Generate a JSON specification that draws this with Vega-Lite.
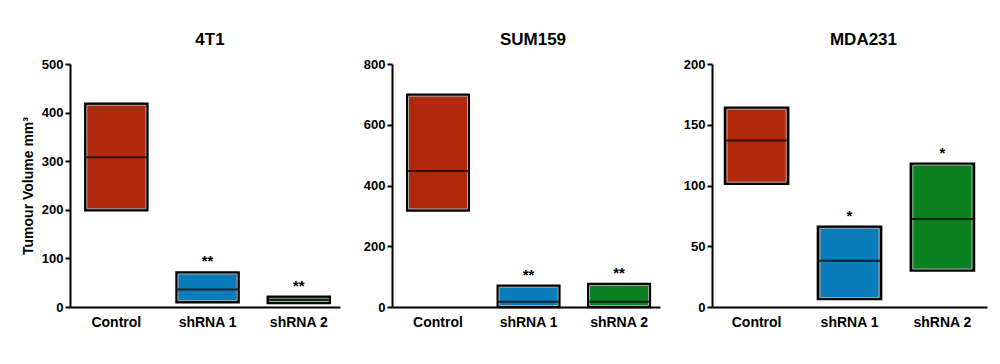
{
  "$schema": "https://vega.github.io/schema/vega-lite/v6.json",
  "background": "white",
  "padding": {"left": 21, "top": 31, "right": 5, "bottom": 5},
  "config": {
    "font": "Liberation Sans",
    "view": {"stroke": null},
    "concat": {"spacing": 22},
    "title": {"fontSize": 17, "fontWeight": "bold", "color": "black", "offset": 9},
    "axis": {
      "grid": false,
      "domainColor": "black",
      "domainWidth": 2,
      "tickColor": "black",
      "tickWidth": 2,
      "labelColor": "black",
      "labelFontWeight": "bold",
      "titleColor": "black"
    },
    "axisY": {"tickSize": 5, "labelFontSize": 13, "labelPadding": 2, "minExtent": 30, "maxExtent": 30},
    "axisX": {"ticks": false, "labelFontSize": 14, "labelPadding": 8, "labelAngle": 0, "title": null}
  },
  "datasets": {
    "t1": [
      {"group": "Control", "low": 199, "high": 418, "median": 308, "star": ""},
      {"group": "shRNA 1", "low": 10, "high": 71, "median": 36, "star": "**"},
      {"group": "shRNA 2", "low": 8, "high": 21, "median": 15, "star": "**"}
    ],
    "sum": [
      {"group": "Control", "low": 318, "high": 699, "median": 448, "star": ""},
      {"group": "shRNA 1", "low": 0, "high": 70, "median": 17, "star": "**"},
      {"group": "shRNA 2", "low": 0, "high": 76, "median": 17, "star": "**"}
    ],
    "mda": [
      {"group": "Control", "low": 101.5, "high": 164, "median": 137, "star": ""},
      {"group": "shRNA 1", "low": 6.5, "high": 66, "median": 38, "star": "*"},
      {"group": "shRNA 2", "low": 30, "high": 118, "median": 72.5, "star": "*"}
    ]
  },
  "hconcat": [
    {
      "width": 270, "height": 243,
      "title": {"text": "4T1", "dx": 5},
      "data": {"name": "t1"},
      "encoding": {
        "x": {"field": "group", "type": "nominal", "sort": ["Control", "shRNA 1", "shRNA 2"],
              "scale": {"paddingInner": 0.32, "paddingOuter": 0.14, "align": 0.6}}
      },
      "layer": [
        {"mark": {"type": "bar", "stroke": "black", "strokeWidth": 2.5},
         "encoding": {
           "y": {"field": "high", "type": "quantitative", "scale": {"domain": [0, 500]},
                 "axis": {"values": [0, 100, 200, 300, 400, 500], "title": "Tumour Volume mm³", "titleFontSize": 14, "titleFontWeight": "bold", "titlePadding": 5}},
           "y2": {"field": "low"},
           "color": {"field": "group", "type": "nominal", "scale": {"domain": ["Control", "shRNA 1", "shRNA 2"], "range": ["#B0290C", "#0B7CBA", "#0B8021"]}, "legend": null}
         }},
        {"mark": {"type": "bar", "filled": false, "stroke": "#a8a8a8", "strokeWidth": 1, "size": 59, "yOffset": 1.5, "y2Offset": -1.5},
         "encoding": {"y": {"field": "high", "type": "quantitative"}, "y2": {"field": "low"}}},
        {"mark": {"type": "tick", "color": "black", "thickness": 2, "size": 62},
         "encoding": {"y": {"field": "median", "type": "quantitative"}}},
        {"mark": {"type": "text", "baseline": "bottom", "dy": -3, "fontSize": 15, "fontWeight": "bold", "color": "black"},
         "encoding": {"y": {"field": "high", "type": "quantitative"}, "text": {"field": "star"}}}
      ]
    },
    {
      "width": 268, "height": 243,
      "title": {"text": "SUM159", "dx": 7},
      "data": {"name": "sum"},
      "encoding": {
        "x": {"field": "group", "type": "nominal", "sort": ["Control", "shRNA 1", "shRNA 2"],
              "scale": {"paddingInner": 0.32, "paddingOuter": 0.14, "align": 0.6}}
      },
      "layer": [
        {"mark": {"type": "bar", "stroke": "black", "strokeWidth": 2.5},
         "encoding": {
           "y": {"field": "high", "type": "quantitative", "scale": {"domain": [0, 800]},
                 "axis": {"values": [0, 200, 400, 600, 800], "title": null}},
           "y2": {"field": "low"},
           "color": {"field": "group", "type": "nominal", "scale": {"domain": ["Control", "shRNA 1", "shRNA 2"], "range": ["#B0290C", "#0B7CBA", "#0B8021"]}, "legend": null}
         }},
        {"mark": {"type": "bar", "filled": false, "stroke": "#a8a8a8", "strokeWidth": 1, "size": 59, "yOffset": 1.5, "y2Offset": -1.5},
         "encoding": {"y": {"field": "high", "type": "quantitative"}, "y2": {"field": "low"}}},
        {"mark": {"type": "tick", "color": "black", "thickness": 2, "size": 62},
         "encoding": {"y": {"field": "median", "type": "quantitative"}}},
        {"mark": {"type": "text", "baseline": "bottom", "dy": -3, "fontSize": 15, "fontWeight": "bold", "color": "black"},
         "encoding": {"y": {"field": "high", "type": "quantitative"}, "text": {"field": "star"}}}
      ]
    },
    {
      "width": 275, "height": 243,
      "title": {"text": "MDA231", "dx": 14},
      "data": {"name": "mda"},
      "encoding": {
        "x": {"field": "group", "type": "nominal", "sort": ["Control", "shRNA 1", "shRNA 2"],
              "scale": {"paddingInner": 0.32, "paddingOuter": 0.14, "align": 0.5}}
      },
      "layer": [
        {"mark": {"type": "bar", "stroke": "black", "strokeWidth": 2.5},
         "encoding": {
           "y": {"field": "high", "type": "quantitative", "scale": {"domain": [0, 200]},
                 "axis": {"values": [0, 50, 100, 150, 200], "title": null}},
           "y2": {"field": "low"},
           "color": {"field": "group", "type": "nominal", "scale": {"domain": ["Control", "shRNA 1", "shRNA 2"], "range": ["#B0290C", "#0B7CBA", "#0B8021"]}, "legend": null}
         }},
        {"mark": {"type": "bar", "filled": false, "stroke": "#a8a8a8", "strokeWidth": 1, "size": 59, "yOffset": 1.5, "y2Offset": -1.5},
         "encoding": {"y": {"field": "high", "type": "quantitative"}, "y2": {"field": "low"}}},
        {"mark": {"type": "tick", "color": "black", "thickness": 2, "size": 62},
         "encoding": {"y": {"field": "median", "type": "quantitative"}}},
        {"mark": {"type": "text", "baseline": "bottom", "dy": -3, "fontSize": 15, "fontWeight": "bold", "color": "black"},
         "encoding": {"y": {"field": "high", "type": "quantitative"}, "text": {"field": "star"}}}
      ]
    }
  ]
}
